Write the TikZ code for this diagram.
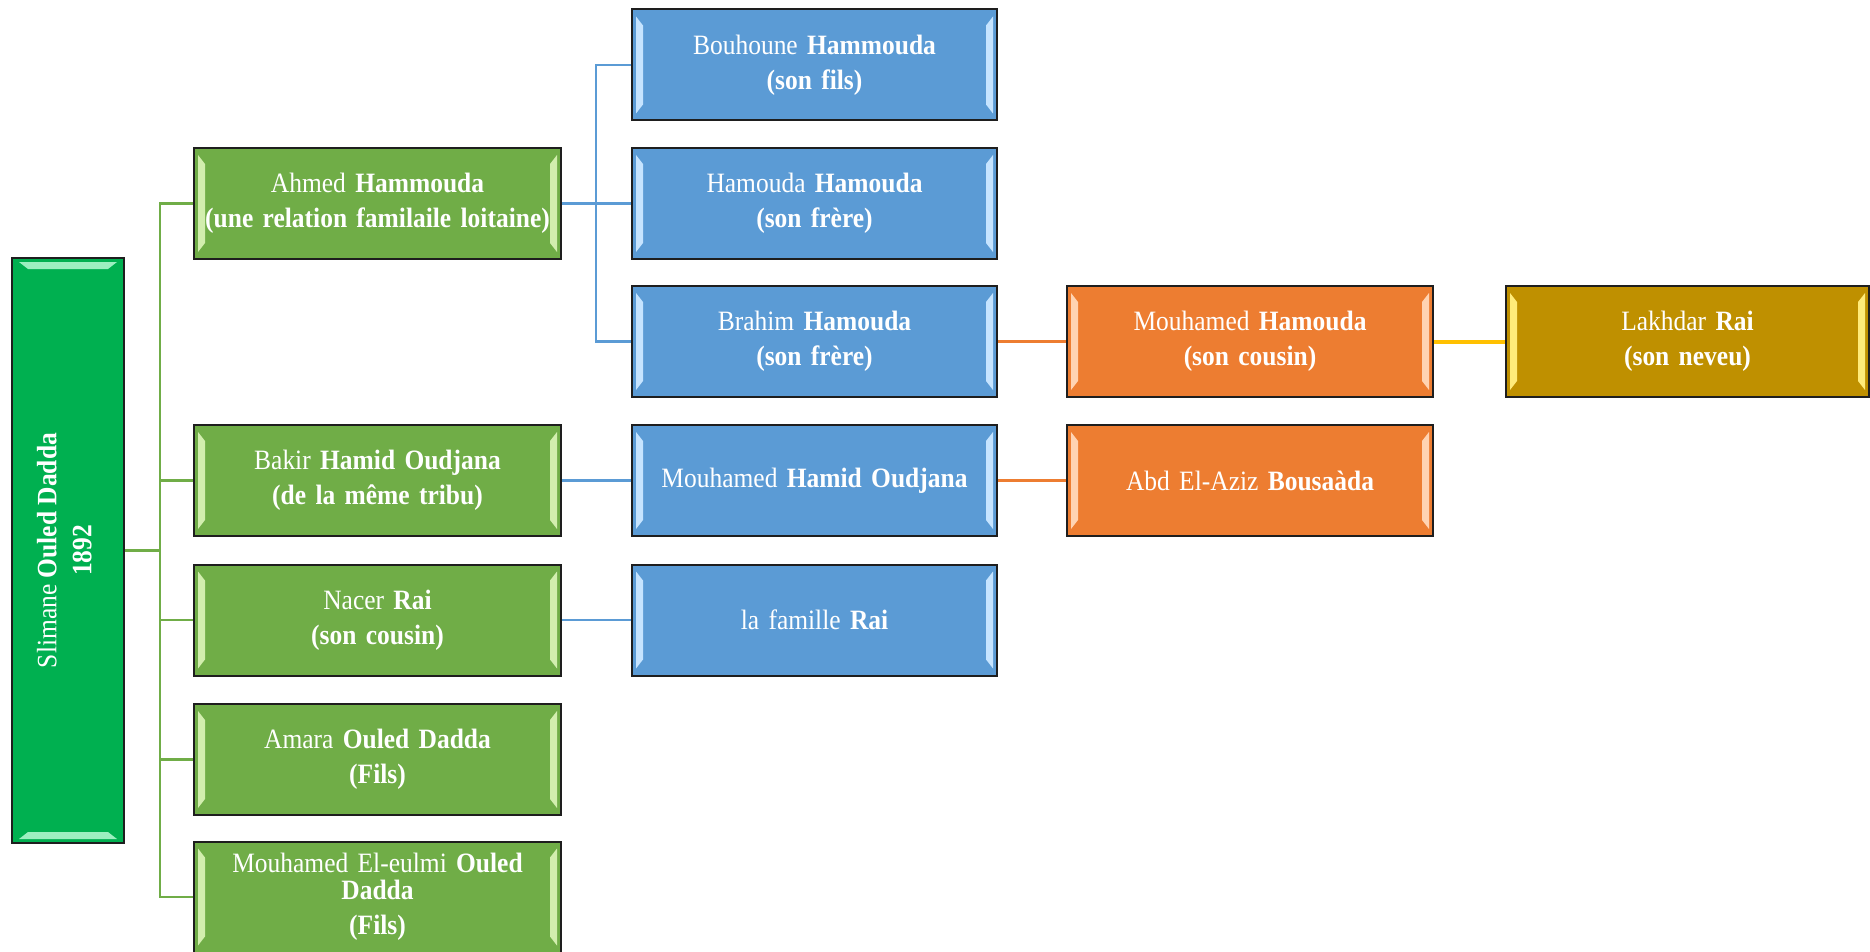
\documentclass[tikz,border=0pt]{standalone}
\usepackage{fontspec}
\setmainfont{Liberation Serif}[FakeStretch=0.91]
\pgfdeclarelayer{back}
\pgfdeclarelayer{bg}
\pgfsetlayers{back,bg,main}
\definecolor{rootg}{HTML}{00B050}
\definecolor{grn}{HTML}{70AD47}
\definecolor{blu}{HTML}{5B9BD5}
\definecolor{org}{HTML}{ED7D31}
\definecolor{gld}{HTML}{BF9000}
\definecolor{ylw}{HTML}{FFC000}
\definecolor{grnL}{HTML}{D2EEAE}
\definecolor{bluL}{HTML}{C6E4FF}
\definecolor{orgL}{HTML}{FFD3B2}
\definecolor{gldL}{HTML}{FFEB7A}
\definecolor{rootL}{HTML}{9CEFC0}
\definecolor{edge}{HTML}{1E1E1E}
\tikzset{
  card/.style={rectangle, draw=edge, line width=2pt, inner sep=0pt, outer sep=0pt,
    minimum height=111pt, text=white, align=center,
    font=\fontsize{28}{29}\selectfont},
  gcard/.style={card, fill=grn, minimum width=367pt, text width=355pt},
  bcard/.style={card, fill=blu, minimum width=365pt, text width=353pt},
  ocard/.style={card, fill=org, minimum width=366pt, text width=354pt},
  ycard/.style={card, fill=gld, minimum width=363pt, text width=351pt},
  rootbox/.style={card, fill=rootg, minimum width=112pt, minimum height=585pt},
  glink/.style={draw=grn, line width=2.5pt},
  blink/.style={draw=blu, line width=2.5pt},
  olink/.style={draw=org, line width=2.5pt},
  ylink/.style={draw=ylw, line width=4pt},
}
\newcommand{\mybevel}[2]{%
  \fill[#2] ([shift={(4,7)}]#1.north west) -- ([shift={(11,16)}]#1.north west)
    -- ([shift={(11,-16)}]#1.south west) -- ([shift={(4,-7)}]#1.south west) -- cycle;
  \fill[#2] ([shift={(-4,7)}]#1.north east) -- ([shift={(-11,16)}]#1.north east)
    -- ([shift={(-11,-16)}]#1.south east) -- ([shift={(-4,-7)}]#1.south east) -- cycle;
}
\begin{document}
\begin{tikzpicture}[x=1pt,y=-1pt]
\begin{pgfonlayer}{back}
\fill[white] (0,0) rectangle (1870,952);
\end{pgfonlayer}
\useasboundingbox (0,0) rectangle (1870,952);

% root
\node[rootbox] (root) at (68,550.5) {\rotatebox{90}{\begin{tabular}{@{}c@{}}Slimane \textbf{Ouled Dadda}\\[6pt]\textbf{1892}\end{tabular}}};
\fill[rootL] ([shift={(7,4)}]root.north west) -- ([shift={(16,11)}]root.north west)
  -- ([shift={(-16,11)}]root.north east) -- ([shift={(-7,4)}]root.north east) -- cycle;
\fill[rootL] ([shift={(7,-4)}]root.south west) -- ([shift={(16,-11)}]root.south west)
  -- ([shift={(-16,-11)}]root.south east) -- ([shift={(-7,-4)}]root.south east) -- cycle;

% green column
\node[gcard] (ahmed) at (377.5,203.5) {Ahmed \textbf{Hammouda}\\[6pt]\textbf{(une relation familaile loitaine)}};
\node[gcard] (bakir) at (377.5,480.5) {Bakir \textbf{Hamid Oudjana}\\[6pt]\textbf{(de la même tribu)}};
\node[gcard] (nacer) at (377.5,620) {Nacer \textbf{Rai}\\[6pt]\textbf{(son cousin)}};
\node[gcard] (amara) at (377.5,759.5) {Amara \textbf{Ouled Dadda}\\[6pt]\textbf{(Fils)}};
\node[gcard] (eulmi) at (377.5,897) {Mouhamed El-eulmi \textbf{Ouled}\\[-2pt]\textbf{Dadda}\\[6pt]\textbf{(Fils)}};
\foreach \n in {ahmed,bakir,nacer,amara,eulmi}{\mybevel{\n}{grnL}}

% blue column
\node[bcard] (bouhoune) at (814.5,65) {Bouhoune \textbf{Hammouda}\\[6pt]\textbf{(son fils)}};
\node[bcard] (hamouda) at (814.5,203.5) {Hamouda \textbf{Hamouda}\\[6pt]\textbf{(son frère)}};
\node[bcard] (brahim) at (814.5,341.5) {Brahim \textbf{Hamouda}\\[6pt]\textbf{(son frère)}};
\node[bcard] (hamid) at (814.5,480.5) {Mouhamed \textbf{Hamid Oudjana}};
\node[bcard] (famille) at (814.5,620) {la famille \textbf{Rai}};
\foreach \n in {bouhoune,hamouda,brahim,hamid,famille}{\mybevel{\n}{bluL}}

% orange column
\node[ocard] (mham) at (1250,341.5) {Mouhamed \textbf{Hamouda}\\[6pt]\textbf{(son cousin)}};
\node[ocard] (abd) at (1250,480.5) {Abd El-Aziz \textbf{Bousaàda}};
\foreach \n in {mham,abd}{\mybevel{\n}{orgL}}

% gold
\node[ycard] (lakhdar) at (1687.5,341.5) {Lakhdar \textbf{Rai}\\[6pt]\textbf{(son neveu)}};
\mybevel{lakhdar}{gldL}

\coordinate (gtrunk) at (160,550.5);
\coordinate (btrunk) at (596,203.5);

\begin{pgfonlayer}{bg}
  \foreach \n in {ahmed,bakir,nacer,amara,eulmi}{
    \draw[glink] (root.east) -- (gtrunk) |- (\n.west);
  }
  \foreach \n in {bouhoune,hamouda,brahim}{
    \draw[blink] (ahmed.east) -- (btrunk) |- (\n.west);
  }
  \draw[blink] (bakir.east) -- (hamid.west);
  \draw[blink] (nacer.east) -- (famille.west);
  \draw[olink] (brahim.east) -- (mham.west);
  \draw[olink] (hamid.east) -- (abd.west);
  \draw[ylink] (mham.east) -- (lakhdar.west);
\end{pgfonlayer}
\end{tikzpicture}
\end{document}
